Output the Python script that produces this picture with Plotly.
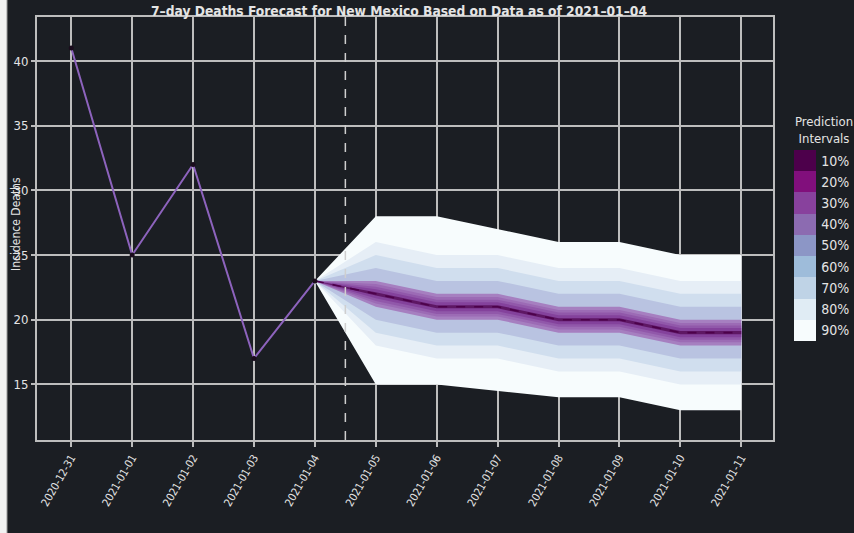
import plotly.graph_objects as go

# Observed weekly deaths
obs_dates = ["2020-12-31", "2021-01-01", "2021-01-02", "2021-01-03", "2021-01-04"]
obs_values = [41, 25, 32, 17, 23]

# Forecast (anchored at the last observation)
fc_dates = ["2021-01-04", "2021-01-05", "2021-01-06", "2021-01-07",
            "2021-01-08", "2021-01-09", "2021-01-10", "2021-01-11"]
fc_median = [23, 22, 21, 21, 20, 20, 19, 19]

# Prediction interval bounds, widest first
pi_labels = ["90%", "80%", "70%", "60%", "50%", "40%", "30%", "20%", "10%"]
pi_lower = {
    "90%": [23, 15, 15, 14.5, 14, 14, 13, 13],
    "80%": [23, 18, 17, 17, 16, 16, 15, 15],
    "70%": [23, 19, 18, 18, 17, 17, 16, 16],
    "60%": [23, 20, 19, 19, 18, 18, 17, 17],
    "50%": [23, 21, 20, 20, 19, 19, 18, 18],
    "40%": [23, 21.25, 20.25, 20.25, 19.25, 19.25, 18.25, 18.25],
    "30%": [23, 21.45, 20.45, 20.45, 19.45, 19.45, 18.45, 18.45],
    "20%": [23, 21.65, 20.65, 20.65, 19.65, 19.65, 18.65, 18.65],
    "10%": [23, 21.88, 20.88, 20.88, 19.88, 19.88, 18.88, 18.88],
}
pi_upper = {
    "90%": [23, 28, 28, 27, 26, 26, 25, 25],
    "80%": [23, 26, 25, 25, 24, 24, 23, 23],
    "70%": [23, 25, 24, 24, 23, 23, 22, 22],
    "60%": [23, 24, 23, 23, 22, 22, 21, 21],
    "50%": [23, 23, 22, 22, 21, 21, 20, 20],
    "40%": [23, 22.75, 21.75, 21.75, 20.75, 20.75, 19.75, 19.75],
    "30%": [23, 22.55, 21.55, 21.55, 20.55, 20.55, 19.55, 19.55],
    "20%": [23, 22.35, 21.35, 21.35, 20.35, 20.35, 19.35, 19.35],
    "10%": [23, 22.12, 21.12, 21.12, 20.12, 20.12, 19.12, 19.12],
}

# Band fills as they appear on the dark background
band_fill = {
    "90%": "#f7fcfd", "80%": "#e6eef6", "70%": "#d0deee", "60%": "#b9c3e1",
    "50%": "#a67fc0", "40%": "#9c6bb5", "30%": "#9158aa", "20%": "#84429c",
    "10%": "#5e1764",
}

# BuPu palette for the interval key (10% darkest)
key_colors = ["#4d004b", "#810f7c", "#88419d", "#8c6bb1", "#8c96c6",
              "#9ebcda", "#bfd3e6", "#e0ecf4", "#f7fcfd"]
key_labels = ["10%", "20%", "30%", "40%", "50%", "60%", "70%", "80%", "90%"]

BG = "#1b1e23"
GRID = "#bdbdbd"
TXT = "#e4e4e4"
FONT = "Liberation Sans Narrow, DejaVu Sans Condensed, Arial Narrow, sans-serif"

fig = go.Figure()

for lab in pi_labels:
    xs = fc_dates + fc_dates[::-1]
    ys = pi_upper[lab] + pi_lower[lab][::-1]
    fig.add_trace(go.Scatter(
        x=xs, y=ys, fill="toself", mode="lines",
        line=dict(width=0), fillcolor=band_fill[lab],
        showlegend=False, hoverinfo="skip"))

fig.add_trace(go.Scatter(
    x=fc_dates, y=fc_median, mode="lines",
    line=dict(color="#4d004b", width=1.6, dash="dash"),
    showlegend=False))

fig.add_trace(go.Scatter(
    x=obs_dates, y=obs_values, mode="lines+markers",
    line=dict(color="#8d63bd", width=2),
    marker=dict(color="#1a0c1c", size=5),
    showlegend=False))

# Discrete colour key for the intervals
n = len(key_colors)
cscale = []
for i, c in enumerate(key_colors[::-1]):
    cscale.append([i / n, c])
    cscale.append([(i + 1) / n, c])
fig.add_trace(go.Scatter(
    x=fc_dates[1:], y=fc_median[1:], mode="markers",
    marker=dict(
        color=list(range(1, 8)), opacity=0, size=1,
        colorscale=cscale, cmin=0.5, cmax=n + 0.5, showscale=True,
        colorbar=dict(
            x=(794 - 37) / 736, xanchor="left", xpad=0, ypad=0,
            y=(440 - 245.5) / 423, yanchor="middle",
            thickness=22, thicknessmode="pixels",
            len=191, lenmode="pixels",
            outlinewidth=0, ticks="outside", ticklen=3,
            tickcolor="rgba(0,0,0,0)",
            tickvals=list(range(n, 0, -1)), ticktext=key_labels,
            tickfont=dict(size=14, color=TXT, family=FONT),
        )),
    showlegend=False, hoverinfo="skip"))

W, H = 854, 533
ml, mr, mt, mb = 37, 81, 17, 93
pw, ph = W - ml - mr, H - mt - mb

fig.update_layout(
    width=W, height=H,
    margin=dict(l=ml, r=mr, t=mt, b=mb, autoexpand=False),
    paper_bgcolor=BG, plot_bgcolor=BG,
    font=dict(family=FONT, color=TXT),
    title=dict(
        text="<b>7–day Deaths Forecast for New Mexico Based on Data as of 2021–01–04</b>",
        x=(399 - ml) / pw, xref="paper", xanchor="center",
        y=1 - 11 / H, yanchor="middle",
        font=dict(size=13.7, color=TXT, family=FONT)),
    xaxis=dict(
        type="date",
        range=["2020-12-30 10:30", "2021-01-11 12:30"],
        tick0="2020-12-31", dtick=86400000, tickformat="%Y-%m-%d",
        tickangle=-60, tickfont=dict(size=11, color=TXT),
        showgrid=True, gridcolor=GRID, gridwidth=1.5,
        showline=True, linecolor=GRID, linewidth=2, mirror=True,
        ticks="outside", ticklen=5, tickcolor=GRID, tickwidth=1.5,
        zeroline=False),
    yaxis=dict(
        range=[10.7, 43.4],
        tickvals=[15, 20, 25, 30, 35, 40],
        tickfont=dict(size=13, color=TXT),
        showgrid=True, gridcolor=GRID, gridwidth=1.5,
        showline=True, linecolor=GRID, linewidth=2, mirror=True,
        ticks="outside", ticklen=4, tickcolor=GRID, tickwidth=1.5,
        zeroline=False),
    shapes=[
        dict(type="line", xref="x", yref="paper",
             x0="2021-01-04 12:00", x1="2021-01-04 12:00", y0=0, y1=1,
             line=dict(color="#cfcfcf", width=1.5, dash="dash")),
        dict(type="rect", xref="paper", yref="paper",
             x0=-ml / pw, x1=(7 - ml) / pw, y0=-mb / ph, y1=1 + mt / ph,
             fillcolor="#f2f2f2", line=dict(width=0)),
        dict(type="line", xref="paper", yref="paper",
             x0=(7 - ml) / pw, x1=(7 - ml) / pw, y0=-mb / ph, y1=1 + mt / ph,
             line=dict(color="#9a9a9a", width=1)),
    ],
    annotations=[
        dict(text="Incidence Deaths", textangle=-90,
             xref="paper", yref="paper",
             x=(16 - ml) / pw, y=(440 - 224) / ph,
             xanchor="center", yanchor="middle", showarrow=False,
             font=dict(size=12, color=TXT, family=FONT)),
        dict(text="Prediction<br>Intervals", align="center",
             xref="paper", yref="paper",
             x=(824 - ml) / pw, y=(440 - 130) / ph,
             xanchor="center", yanchor="middle", showarrow=False,
             font=dict(size=13, color=TXT, family=FONT)),
    ],
)

fig.write_html("out.html")
